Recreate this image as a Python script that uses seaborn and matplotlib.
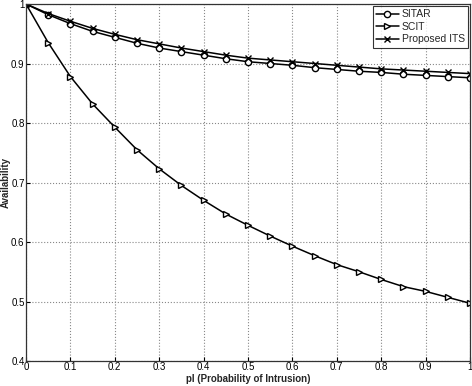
import numpy as np
import pandas as pd
import matplotlib
matplotlib.use("Agg")
import matplotlib.pyplot as plt
from matplotlib.ticker import FormatStrFormatter
import seaborn as sns

# probability of intrusion
p_intrusion = [0.0, 0.05, 0.1, 0.15, 0.2, 0.25, 0.3, 0.35, 0.4, 0.45, 0.5,
               0.55, 0.6, 0.65, 0.7, 0.75, 0.8, 0.85, 0.9, 0.95, 1.0]

sitar = [1.0, 0.982, 0.967, 0.954, 0.944, 0.934, 0.926, 0.920, 0.914, 0.908, 0.903,
         0.900, 0.897, 0.893, 0.890, 0.887, 0.885, 0.882, 0.880, 0.878, 0.876]
scit = [1.0, 0.935, 0.878, 0.832, 0.793, 0.755, 0.723, 0.695, 0.670, 0.647, 0.628,
        0.610, 0.593, 0.577, 0.562, 0.550, 0.537, 0.525, 0.517, 0.507, 0.497]
its = [1.0, 0.984, 0.971, 0.959, 0.949, 0.940, 0.933, 0.926, 0.920, 0.914, 0.909,
       0.906, 0.903, 0.900, 0.897, 0.894, 0.891, 0.889, 0.887, 0.885, 0.883]

series_names = ['SITAR', 'SCIT', 'Proposed ITS']

df = pd.concat([
    pd.DataFrame({'pI': p_intrusion, 'Availability': sitar, 'scheme': 'SITAR'}),
    pd.DataFrame({'pI': p_intrusion, 'Availability': scit, 'scheme': 'SCIT'}),
    pd.DataFrame({'pI': p_intrusion, 'Availability': its, 'scheme': 'Proposed ITS'}),
])

sns.set_style("ticks")
plt.rcParams['font.family'] = ['Liberation Sans', 'DejaVu Sans']

fig = plt.figure(figsize=(4.72, 3.86), dpi=100)
# axes box in pixels: left 26, right 470, top 4, bottom 361
ax = fig.add_axes([26 / 472, 1 - 361 / 386, 444 / 472, 357 / 386])

markers = {'SITAR': 'o', 'SCIT': '>', 'Proposed ITS': 'x'}
for name in series_names:
    sub = df[df['scheme'] == name]
    sns.lineplot(data=sub, x='pI', y='Availability', ax=ax, color='black',
                 linewidth=1.1, marker=markers[name], markersize=4.5,
                 markerfacecolor='white', markeredgecolor='black',
                 markeredgewidth=1.0, label=name)

ax.set_xlim(0, 1)
ax.set_ylim(0.4, 1)
ax.set_xticks(np.arange(0, 1.01, 0.1))
ax.set_yticks(np.arange(0.4, 1.01, 0.1))
ax.xaxis.set_major_formatter(FormatStrFormatter('%g'))
ax.yaxis.set_major_formatter(FormatStrFormatter('%g'))
ax.tick_params(direction='in', length=3, labelsize=7, pad=1, colors='black')
ax.grid(True, linestyle=':', color='#888888', linewidth=0.8)
for s in ax.spines.values():
    s.set_visible(True)
    s.set_color('#333333')
    s.set_linewidth(0.9)

ax.set_xlabel('pI (Probability of Intrusion)', fontsize=7, fontweight='bold')
ax.set_ylabel('Availability', fontsize=7, fontweight='bold')
# axis labels hug the edges like in the reference, but stay inside the canvas
ax.xaxis.set_label_coords(0.5, -13 / 357)
ax.xaxis.label.set_va('top')
ax.yaxis.set_label_coords(-25.5 / 444, 0.5)
ax.yaxis.label.set_va('top')

leg = ax.legend(loc='upper right', fontsize=7.5, frameon=True, fancybox=False,
                handlelength=2.2, handletextpad=0.3, borderpad=0.3,
                labelspacing=0.25, borderaxespad=0.2)
leg.get_frame().set_edgecolor('black')
leg.get_frame().set_linewidth(0.8)

fig.savefig('out.png', dpi=100)
